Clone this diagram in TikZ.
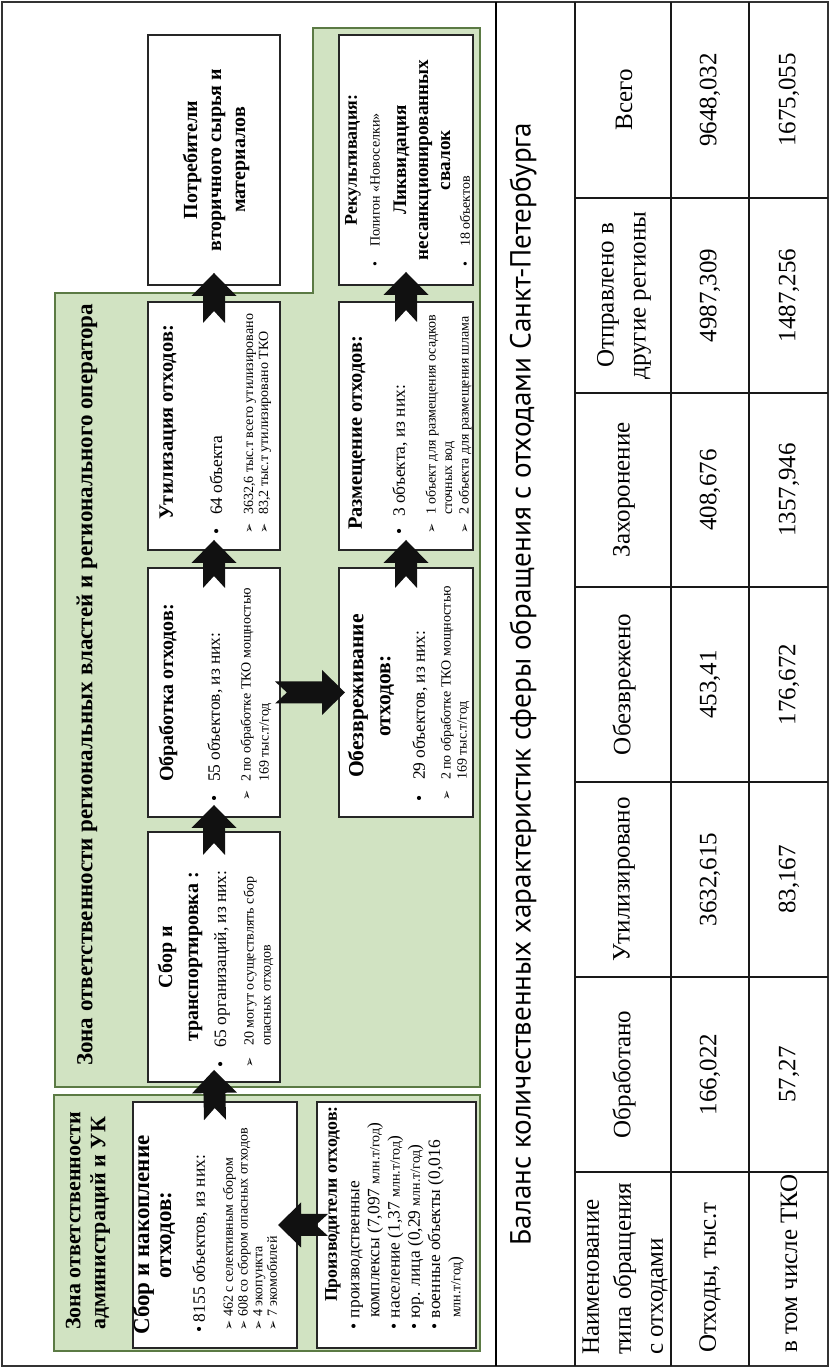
\documentclass[tikz,border=0pt]{standalone}
\usepackage{fontspec}
\setmainfont{Liberation Serif}
\newfontfamily\ptsans{PT Sans}
\newfontfamily\dejavu{DejaVu Sans}
\usetikzlibrary{calc}
\definecolor{zonefill}{HTML}{D1E3C2}
\definecolor{zoneline}{HTML}{5B7A44}
\definecolor{arrowc}{HTML}{111111}
\newcommand\fs[2]{\fontsize{#1}{#2}\selectfont}
\newcommand\mk{{\dejavu\fontsize{6}{6}\selectfont ➢}}
\newcommand\bl[1]{\makebox[#1][l]{•}}
\newcommand\ml[1]{\makebox[#1][l]{\mk}}
\newcommand\mkbox[5]{\node[wbox, minimum width={(#4-#2)*0.5pt}, minimum height={(#5-#3)*0.5pt}] (#1) at ({(#2+#4)/2},{(#3+#5)/2}) {};}
\newcommand\notch[2]{%
 \coordinate (nT) at (#1); \coordinate (nP) at (#2);
 \coordinate (nH) at ($(nP)!11.5pt!(nT)$);
 \fill[arrowc] (nP) -- ($(nH)!11.25pt!90:(nP)$) -- ($(nH)!5.5pt!90:(nP)$) -- ($(nT)!5.5pt!90:(nP)$) -- ($(nT)!6pt!(nP)$) -- ($(nT)!5.5pt!-90:(nP)$) -- ($(nH)!5.5pt!-90:(nP)$) -- ($(nH)!11.25pt!-90:(nP)$) -- cycle;}
\begin{document}
\begin{tikzpicture}[x=0.5pt,y=-0.5pt,rotate=90,transform shape,
 wbox/.style={draw=black!85,line width=0.75pt,fill=white,inner sep=0pt,outer sep=0pt},
 zone/.style={draw=zoneline,line width=1pt,fill=zonefill},
 t/.style={inner sep=0pt,outer sep=0pt,anchor=west,align=left},
 tc/.style={inner sep=0pt,outer sep=0pt,align=center},
 tline/.style={line width=0.8pt,draw=black!90}]
\useasboundingbox[fill=white] (0,0) rectangle (1368,830);
% frame
\draw[line width=1pt, draw=black!80] (2,2) rectangle (1366,828);
\draw[line width=1.2pt] (2,496) -- (1366,496);
% zones
\draw[zone] (281,55) -- (1075,55) -- (1075,313) -- (1340,313) -- (1340,480) -- (281,480) -- cycle;
\draw[zone] (17,54) rectangle (273,480);
% boxes
\mkbox{sbornak}{20}{133}{266}{297}
\mkbox{proiz}{20}{317}{266}{476}
\mkbox{sbortr}{286}{148}{536}{280}
\mkbox{obrab}{551}{148}{800}{280}
\mkbox{util}{818}{148}{1066}{280}
\mkbox{potr}{1083}{148}{1333}{280}
\mkbox{obez}{551}{339}{800}{473}
\mkbox{razm}{818}{339}{1066}{473}
\mkbox{rekul}{1083}{339}{1333}{473}
% zone titles
\node[tc, font=\bfseries\fs{11.5}{13}] (bigzt) at (683,87) {Зона ответственности региональных властей и регионального оператора};
\node[t, font=\bfseries\fs{11}{12.5}] (smzt) at (38,88) {Зона ответственности\\администраций и УК};
% Сбор и накопление
\node[tc, font=\bfseries\fs{11.5}{11}] (sbornakh) at (133,154) {Сбор и накопление\\отходов:};
\node[t, font=\fs{8.7}{10}] (sbornakb) at (35,200) {\bl{5.5pt}8155 объектов, из них:};
\node[t, font=\fs{7}{7.35}] (sbornaks) at (37,250) {\ml{7pt}462 с селективным сбором\\\ml{7pt}608 со сбором опасных отходов\\\ml{7pt}4 экопункта\\\ml{7pt}7 экомобилей};
% Производители
\node[t, font=\bfseries\fs{8.9}{11}] (proizh) at (66,333) {Производители отходов:};
\node[t, font=\fs{8.7}{10.1}] (proizb) at (38,407.5) {\bl{6pt}производственные\\\hspace*{6pt}комплексы (7,097 {\fs{7}{7}млн.т/год})\\\bl{6pt}население (1,37 {\fs{7}{7}млн.т/год})\\\bl{6pt}юр. лица (0,29 {\fs{7}{7}млн.т/год})\\\bl{6pt}военные объекты (0,016\\\hspace*{6pt}{\fs{7}{7}млн.т/год})};
% Сбор и транспортировка
\node[tc, font=\bfseries\fs{10}{13}] (sbortrh) at (411,180) {Сбор и\\транспортировка :};
\node[t, font=\fs{8.7}{10}] (sbortrb) at (300,222) {\bl{10.5pt}65 организаций, из них:};
\node[t, font=\fs{7}{8.5}] (sbortrs) at (300,258.5) {\ml{11pt}20 могут осуществлять сбор\\\hspace*{11pt}опасных отходов};
% Обработка
\node[tc, font=\bfseries\fs{10}{12}] (obrabh) at (675,168) {Обработка отходов:};
\node[t, font=\fs{8.7}{10}] (obrabb) at (566,215) {\bl{10pt}55 объектов, из них:};
\node[t, font=\fs{7}{9}] (obrabs) at (567,256) {\ml{9.5pt}2 по обработке ТКО мощностью\\\hspace*{9.5pt}169 тыс.т/год};
% Утилизация
\node[t, font=\bfseries\fs{10.2}{12}] (utilh) at (848,168) {Утилизация отходов:};
\node[t, font=\fs{8.7}{10}] (utilb) at (833,216) {\bl{10pt}64 объекта};
\node[t, font=\fs{7}{7.5}] (utils) at (834,257.5) {\ml{9.5pt}3632,6 тыс.т всего утилизировано\\\ml{9.5pt}83,2 тыс.т утилизировано ТКО};
% Потребители
\node[tc, font=\bfseries\fs{10}{12}] (potrh) at (1208,216) {Потребители\\вторичного сырья и\\материалов};
% Обезвреживание
\node[tc, font=\bfseries\fs{10.8}{13.5}] (obezh) at (672,371) {Обезвреживание\\отходов:};
\node[t, font=\fs{8.7}{10}] (obezb) at (566,420) {\bl{11pt}29 объектов, из них:};
\node[t, font=\fs{7}{8}] (obezs) at (567,455) {\ml{10.5pt}2 по обработке ТКО мощностью\\\hspace*{10.5pt}169 тыс.т/год};
% Размещение
\node[t, font=\bfseries\fs{10.2}{12}] (razmh) at (838,357) {Размещение отходов:};
\node[t, font=\fs{8.7}{10}] (razmb) at (833,400) {\bl{9pt}3 объекта, из них:};
\node[t, font=\fs{7}{8.25}] (razms) at (834,448.5) {\ml{9.5pt}1 объект для размещения осадков\\\hspace*{9.5pt}сточных вод\\\ml{9.5pt}2 объекта для размещения шлама};
% Рекультивация
\node[tc, font=\bfseries\fs{9}{11}] (rekulh) at (1208,353) {Рекультивация:};
\node[t, font=\fs{7}{8}] (rekulb1) at (1101,375) {\bl{10pt}Полигон «Новоселки»};
\node[tc, font=\bfseries\fs{9.6}{11}] (rekull) at (1208,422) {Ликвидация\\несанкционированных\\свалок};
\node[t, font=\fs{7}{8}] (rekulb2) at (1101,465) {\bl{10pt}18 объектов};
% arrows
\notch{$(sbornak.east)+(-18,0)$}{$(sbortr.west)+(12,0)$}
\notch{$(sbortr.east)+(-23,0)$}{$(obrab.west)+(12,0)$}
\notch{$(obrab.east)+(-20,0)$}{$(util.west)+(10,0)$}
\notch{$(util.east)+(-21,0)$}{$(potr.west)+(12,0)$}
\notch{$(obez.east)+(-20,0)$}{$(razm.west)+(10,0)$}
\notch{$(razm.east)+(-20,0)$}{$(rekul.west)+(13,0)$}
\notch{$(obrab.south)+(0,-5)$}{$(obez.north)+(0,6)$}
\notch{$(proiz.north)+(0,11)$}{$(sbornak.south)+(0,-19)$}
% table
\draw[tline] (2,575) -- (1366,575);
\draw[tline] (2,671) -- (1366,671);
\draw[tline] (2,749) -- (1366,749);
\foreach \cx in {196,391,586,781,975,1170} {\draw[tline] (\cx,575) -- (\cx,828);}
\node[tc, font=\ptsans\fs{14}{16}] (title) at (684,523) {\resizebox{561pt}{!}{Баланс количественных характеристик сферы обращения с отходами Санкт-Петербурга}};
\node[t, font=\fs{12.5}{16}] (h0) at (13,625) {Наименование\\типа обращения\\с отходами};
\node[tc, font=\fs{12.5}{16}] (h1) at (293.5,624) {Обработано};
\node[tc, font=\fs{12.5}{16}] (h2) at (488.5,624) {Утилизировано};
\node[tc, font=\fs{12.5}{16}] (h3) at (683.5,624) {Обезврежено};
\node[tc, font=\fs{12.5}{16}] (h4) at (878,624) {Захоронение};
\node[tc, font=\fs{12.5}{16}] (h5) at (1072.5,624) {Отправлено в\\другие регионы};
\node[tc, font=\fs{12.5}{16}] (h6) at (1268,624) {Всего};
\node[t, font=\fs{12.5}{16}] (r0) at (15,710) {Отходы, тыс.т};
\node[tc, font=\fs{12.5}{16}] (r1) at (293.5,710) {166,022};
\node[tc, font=\fs{12.5}{16}] (r2) at (488.5,710) {3632,615};
\node[tc, font=\fs{12.5}{16}] (r3) at (683.5,710) {453,41};
\node[tc, font=\fs{12.5}{16}] (r4) at (878,710) {408,676};
\node[tc, font=\fs{12.5}{16}] (r5) at (1072.5,710) {4987,309};
\node[tc, font=\fs{12.5}{16}] (r6) at (1268,710) {9648,032};
\node[t, font=\fs{12.5}{16}] (s0) at (15,789) {в том числе ТКО};
\node[tc, font=\fs{12.5}{16}] (s1) at (293.5,789) {57,27};
\node[tc, font=\fs{12.5}{16}] (s2) at (488.5,789) {83,167};
\node[tc, font=\fs{12.5}{16}] (s3) at (683.5,789) {176,672};
\node[tc, font=\fs{12.5}{16}] (s4) at (878,789) {1357,946};
\node[tc, font=\fs{12.5}{16}] (s5) at (1072.5,789) {1487,256};
\node[tc, font=\fs{12.5}{16}] (s6) at (1268,789) {1675,055};
\end{tikzpicture}
\end{document}
